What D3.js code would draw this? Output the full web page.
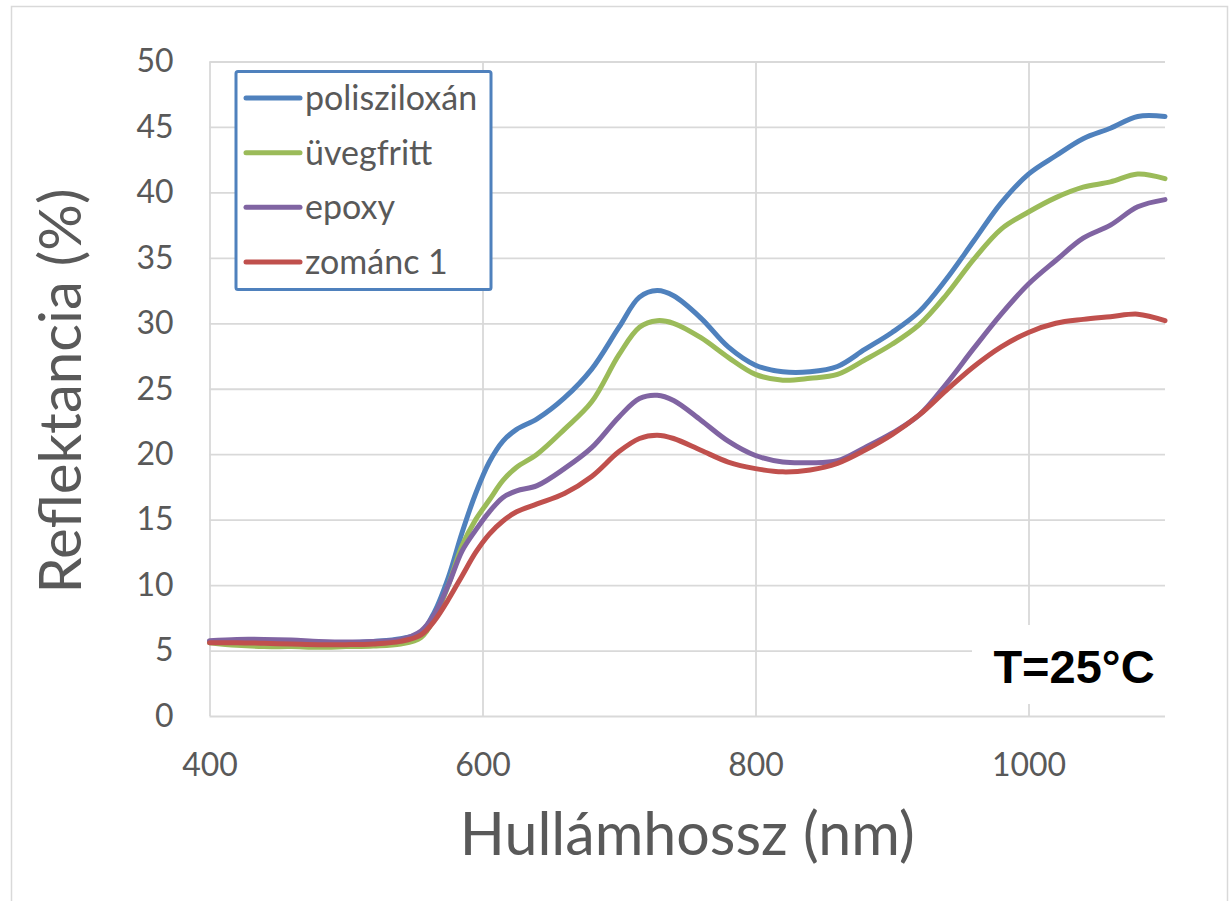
<!DOCTYPE html>
<html><head><meta charset="utf-8">
<script src="https://cdn.jsdelivr.net/npm/d3@7"></script>
<style>body{margin:0;background:#fff}svg{display:block}</style>
</head><body><svg id="c" width="1230" height="901"></svg>
<script>
const wavelengths = [400,420,440,460,480,500,520,540,555,565,575,585,595,605,615,625,640,660,680,700,715,728,740,760,780,800,820,840,860,880,900,920,940,960,980,1000,1020,1040,1060,1080,1100];
const polisziloxan = [5.7,5.75,5.75,5.7,5.6,5.6,5.7,5.9,6.4,8.0,10.6,14.0,17.0,19.4,21.0,21.9,22.7,24.3,26.5,29.7,32.0,32.5,32.1,30.4,28.2,26.8,26.3,26.3,26.7,28.0,29.3,30.9,33.4,36.3,39.2,41.4,42.8,44.1,44.9,45.8,45.8];
const uvegfritt = [5.6,5.4,5.3,5.3,5.25,5.3,5.35,5.5,6.0,7.5,10.0,13.0,15.0,16.5,18.0,19.0,20.0,21.9,24.0,27.6,29.7,30.2,30.0,28.9,27.4,26.1,25.65,25.8,26.1,27.2,28.4,29.9,32.2,34.9,37.2,38.5,39.6,40.4,40.8,41.4,41.05];
const epoxy = [5.75,5.85,5.85,5.8,5.7,5.65,5.7,5.85,6.5,7.8,10.0,12.6,14.2,15.6,16.7,17.2,17.6,18.9,20.5,22.85,24.25,24.5,24.1,22.6,21.0,19.9,19.4,19.35,19.5,20.5,21.6,23.0,25.4,28.1,30.7,33.0,34.8,36.5,37.5,38.9,39.45];
const zomanc1 = [5.6,5.6,5.55,5.5,5.45,5.45,5.5,5.7,6.2,7.3,8.9,10.7,12.5,13.9,14.9,15.6,16.2,17.0,18.3,20.2,21.2,21.45,21.2,20.3,19.4,18.9,18.65,18.8,19.3,20.3,21.5,23.0,24.9,26.7,28.2,29.3,30.0,30.3,30.5,30.7,30.2];
const seriesNames = ["polisziloxán","üvegfritt","epoxy","zománc 1"];
const seriesColors = ["#4F81BD","#9BBB59","#8064A2","#C0504D"];
const xTicks = [400,600,800,1000];
const yTicks = [0,5,10,15,20,25,30,35,40,45,50];
const xTitle = "Hullámhossz (nm)";
const yTitle = "Reflektancia (%)";
const note = "T=25°C";

const seriesValues = [polisziloxan, uvegfritt, epoxy, zomanc1];
const series = seriesNames.map((n,i)=>({name:n,color:seriesColors[i],
  pts:wavelengths.map((w,j)=>[w,seriesValues[i][j]])}));

const svg = d3.select("#c");
const font = "Lato, 'Open Sans', sans-serif";
const grey = "#595959", gridC = "#d9d9d9";
const L=209.5, R=1165, T=61.5, B=716;
const x = d3.scaleLinear().domain([400,1100]).range([L,R]);
const y = d3.scaleLinear().domain([0,50]).range([B,T]);

// chart border
svg.append("rect").attr("x",11.5).attr("y",6.5).attr("width",1216).attr("height",900)
  .attr("fill","#fff").attr("stroke",gridC).attr("stroke-width",1.5);

// y axis + horizontal grid
const gy = svg.append("g").attr("transform",`translate(${L},0)`)
  .call(d3.axisLeft(y).tickValues(yTicks).tickFormat(d3.format("d")).tickSize(-(R-L)).tickPadding(36));
gy.select(".domain").remove();
gy.selectAll("line").attr("stroke",gridC).attr("stroke-width",1.8);
gy.selectAll("text").attr("fill",grey).style("font-family",font).style("font-size","32px");

// x axis + vertical grid
const gx = svg.append("g").attr("transform",`translate(0,${B})`)
  .call(d3.axisBottom(x).tickValues(xTicks).tickFormat(d3.format("d")).tickSize(-(B-T)).tickPadding(37));
gx.select(".domain").remove();
gx.selectAll("line").attr("stroke",gridC).attr("stroke-width",1.8);
gx.selectAll("text").attr("fill",grey).style("font-family",font).style("font-size","32px");

// note box
svg.append("rect").attr("x",972).attr("y",625).attr("width",R-972+1).attr("height",79).attr("fill","#fff");
svg.append("text").attr("x",1074).attr("y",683).attr("text-anchor","middle")
  .style("font-family","'Liberation Sans', Arial, sans-serif").style("font-weight","bold")
  .style("font-size","47px").attr("fill","#000").text(note);

// lines
const line = d3.line().x(d=>x(d[0])).y(d=>y(d[1])).curve(d3.curveCatmullRom.alpha(0.5));
svg.append("g").selectAll("path").data(series).join("path")
  .attr("d",d=>line(d.pts)).attr("fill","none").attr("stroke",d=>d.color)
  .attr("stroke-width",5).attr("stroke-linecap","round").attr("stroke-linejoin","round");

// titles fitted to width
function fit(sel, target){
  let fs = parseFloat(sel.style("font-size"));
  const w = sel.node().getComputedTextLength();
  sel.style("font-size",(fs*target/w)+"px");
}
const xt = svg.append("text").attr("x",(L+R)/2).attr("y",855).attr("text-anchor","middle")
  .attr("fill",grey).style("font-family",font).style("font-size","60px").text(xTitle);
fit(xt,455);
const yt = svg.append("text").attr("transform","translate(81,391) rotate(-90)").attr("text-anchor","middle")
  .attr("fill",grey).style("font-family",font).style("font-size","56px").text(yTitle);
fit(yt,405);

// legend
const lg = svg.append("g");
lg.append("rect").attr("x",236).attr("y",71.5).attr("width",255).attr("height",218).attr("rx",2)
  .attr("fill","#fff").attr("stroke","#4F81BD").attr("stroke-width",3);
const ly = d3.scalePoint().domain(seriesNames).range([98,262]);
const items = lg.selectAll("g.it").data(series).join("g").attr("class","it")
  .attr("transform",d=>`translate(0,${ly(d.name)})`);
items.append("line").attr("x1",246).attr("x2",300).attr("stroke",d=>d.color)
  .attr("stroke-width",5).attr("stroke-linecap","round");
items.append("text").attr("x",305).attr("y",12).attr("fill",grey)
  .style("font-family",font).style("font-size","34px").text(d=>d.name);
</script></body></html>
